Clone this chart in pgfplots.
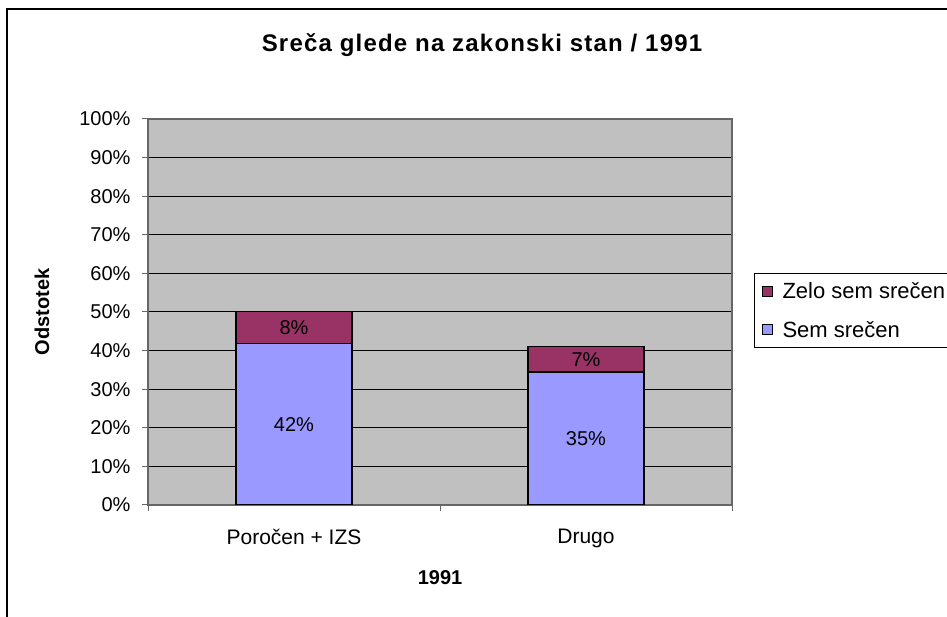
\documentclass[border=0pt]{standalone}
\usepackage{pgfplots}
\pgfplotsset{compat=1.18}
\usepackage{pgfplotstable}
\usepackage{fontspec}
\setmainfont{Liberation Sans}
\definecolor{semsrecen}{HTML}{9999FF}
\definecolor{zelo}{HTML}{993366}
\definecolor{plotbg}{HTML}{C0C0C0}
\pgfplotstableread{
x y label
0 41.8 42
1 34.4 35
}\sem
\pgfplotstableread{
x y label
0 8.3 8
1 6.6 7
}\zelo
\begin{document}
\begin{tikzpicture}[x=1bp,y=1bp]
\useasboundingbox (0,0) rectangle (947,617);
\draw[line width=2bp] (7,-5) -- (7,608) -- (960,608);
\node[anchor=base] at (482,565) {\fontsize{24bp}{28bp}\selectfont\bfseries\addfontfeature{LetterSpace=5}Sreča glede na zakonski stan / 1991};
\begin{axis}[
  at={(148bp,112bp)}, anchor=south west,
  scale only axis, width=584bp, height=386bp,
  ybar stacked, bar width=116bp,
  xmin=-0.5, xmax=1.5, ymin=0, ymax=100,
  axis background/.style={fill=plotbg},
  axis line style={draw=black!60, line width=1.5bp},
  ymajorgrids, grid style={black, line width=1bp},
  ytick={0,10,...,100},
  yticklabels={0\%,10\%,20\%,30\%,40\%,50\%,60\%,70\%,80\%,90\%,100\%},
  yticklabel style={xshift=-8bp},
  xtick={-0.5,0.5,1.5}, xticklabels={},
  extra x ticks={0,1}, extra x tick labels={Poročen + IZS, Drugo},
  extra x tick style={major tick length=0pt, xticklabel style={yshift=-21bp, font=\fontsize{21bp}{24bp}\selectfont}},
  tick pos=left, tick align=outside, major tick length=6bp,
  tick style={draw=black!60, line width=1bp},
  tick label style={font=\fontsize{20bp}{24bp}\selectfont},
  xlabel={1991}, ylabel={Odstotek},
  label style={font=\fontsize{20bp}{24bp}\selectfont\bfseries},
  xlabel style={at={(axis description cs:0.5,-0.188)}, anchor=center},
  ylabel style={at={(axis description cs:-0.1815,0.5)}, anchor=center},
  legend style={at={(1.0377,0.601)}, anchor=north west, draw=black, line width=1bp, fill=white,
    font=\fontsize{22bp}{26bp}\selectfont, row sep=17bp, inner sep=7bp,
    /tikz/every odd column/.append style={column sep=8bp}},
  legend cell align=left,
  reverse legend,
  legend image code/.code={\draw[#1, draw=black, line width=1bp] (0bp,-5bp) rectangle (10bp,5bp);},
  nodes near coords={\pgfplotspointmeta\%},
  point meta=explicit symbolic,
  every node near coord/.append style={font=\fontsize{20bp}{24bp}\selectfont, text=black, anchor=center},
]
\addplot[fill=semsrecen, draw=black, line width=1.5bp] table[x=x, y=y, meta=label] {\sem};
\addlegendentry{\makebox[200bp][l]{Sem srečen}}
\addplot[fill=zelo, draw=black, line width=1.5bp] table[x=x, y=y, meta=label] {\zelo};
\addlegendentry{\makebox[200bp][l]{Zelo sem srečen}}
\end{axis}
\end{tikzpicture}
\end{document}
